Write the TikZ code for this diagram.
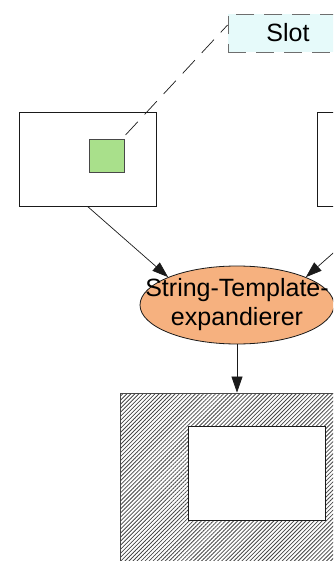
\documentclass[tikz,border=0pt]{standalone}
\usepackage{fontspec}
\setmainfont{Liberation Sans}
\usepackage{tikz}
\usetikzlibrary{arrows.meta, positioning, shapes, backgrounds, patterns.meta}
\definecolor{SlotFill}{HTML}{E6FAFA}
\definecolor{SlotDash}{HTML}{6E6E6E}
\definecolor{WidgetFill}{HTML}{A9E08B}
\definecolor{ExpandFill}{HTML}{F6B17F}
\definecolor{LineInk}{HTML}{1A1A1A}

\begin{document}
\begin{tikzpicture}[
    x=1pt, y=-1pt,
    font=\fontsize{25}{29}\selectfont,
    frame/.style={
      draw=LineInk,
      line width=0.8pt,
      minimum width=137pt,
      minimum height=94pt,
      inner sep=0pt,
    },
    widget/.style={
      draw=LineInk!80,
      line width=0.8pt,
      fill=WidgetFill,
      minimum width=35pt,
      minimum height=33pt,
      inner sep=0pt,
    },
    slotbox/.style={
      draw=SlotDash,
      fill=SlotFill,
      line width=0.9pt,
      dash pattern=on 18pt off 10pt,
      minimum width=120pt,
      minimum height=38pt,
      inner sep=0pt,
    },
    expand/.style={
      ellipse,
      draw=LineInk,
      line width=0.8pt,
      fill=ExpandFill,
      minimum width=194pt,
      minimum height=78pt,
      inner sep=0pt,
    },
    screen/.style={
      draw=LineInk!80,
      line width=0.8pt,
      pattern={Lines[angle=45, distance=2.85pt, line width=0.8pt]},
      pattern color=LineInk!80,
      minimum width=274pt,
      minimum height=220pt,
      inner sep=0pt,
    },
    flow/.style={
      draw=LineInk,
      line width=0.7pt,
      -{Triangle[length=16pt,width=11pt]},
    },
  ]
    \useasboundingbox (0,0) rectangle (333,561);
    \clip (0,0) rectangle (333,561);

    \node[frame] (frameL) at (87.5,159) {};
    \node[widget] (widget) at (106.5,155.5) {};
    \node[frame] (frameR) at (386,159) {};
    \node[slotbox] (slot) at (288,33) {Slot};

    \begin{scope}[on background layer]
      \draw[LineInk, line width=0.7pt, dash pattern=on 18pt off 10pt]
        (widget.center) -- ([yshift=8pt]slot.west);
    \end{scope}

    \node[expand, label={[align=center]center:String-Template-\\expandierer}]
      (expander) at (237,305) {};

    \node[screen] (screen) at (257,503) {};
    \node[frame, fill=white] (preview) at (257,473.5) {};

    \draw[flow] (frameL.south) -- (expander.north west);
    \draw[flow] (frameR.south) -- (expander.north east);
    \draw[flow] (expander.south) -- (expander.south |- screen.north);
  \end{tikzpicture}
\end{document}
